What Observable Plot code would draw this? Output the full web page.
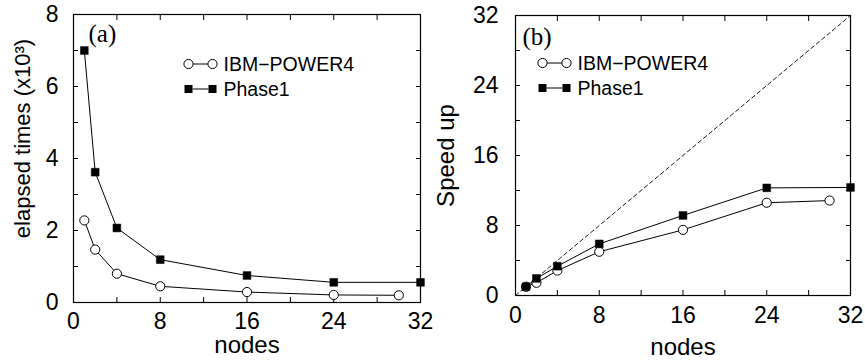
<!DOCTYPE html>
<html><head><meta charset="utf-8">
<script src="https://cdn.jsdelivr.net/npm/d3@7"></script>
<script src="https://cdn.jsdelivr.net/npm/@observablehq/plot@0.6"></script>
<style>
body{margin:0;background:#fff;}
#wrap{position:relative;width:865px;height:360px;font-family:"Liberation Sans",Arial,sans-serif;background:#fff;}
#wrap > svg{position:absolute;top:0;font-family:"Liberation Sans",Arial,sans-serif !important;}
.leg{position:absolute;display:flex;align-items:center;height:20px;font-size:19.5px;line-height:20px;color:#000;white-space:nowrap;}
.leg svg{display:block;margin-right:5px;}
</style>
</head><body>
<div id="wrap"></div>
<script>
// ---- data ----
const nodesIBM = [1, 2, 4, 8, 16, 24, 30];
const timeIBM = [2.28, 1.47, 0.80, 0.45, 0.29, 0.21, 0.20];      // x10^3
const nodesPhase1 = [1, 2, 4, 8, 16, 24, 32];
const timePhase1 = [7.0, 3.62, 2.07, 1.19, 0.75, 0.56, 0.56];    // x10^3
const speedIBM = [1, 1.45, 2.85, 5.0, 7.5, 10.6, 10.85];
const speedPhase1 = [1, 1.95, 3.35, 5.9, 9.15, 12.3, 12.35];
const idealNodes = [0, 32];
const idealSpeed = [0, 32];
const xTicks = [0, 8, 16, 24, 32];
const xMinor = [4, 12, 20, 28];
const yTicksA = [0, 2, 4, 6, 8];
const yMinorA = [1, 3, 5, 7];
const yTicksB = [0, 8, 16, 24, 32];
const yMinorB = [4, 12, 20, 28];
const seriesNames = ["IBM\u2212POWER4", "Phase1"];
const xLabel = "nodes";
const yLabelA = "elapsed times (x10\u00B3)";
const yLabelB = "Speed up";

const rows = (xs, ys) => xs.map((x, i) => ({x, y: ys[i]}));
const ibmA = rows(nodesIBM, timeIBM), phA = rows(nodesPhase1, timePhase1);
const ibmB = rows(nodesIBM, speedIBM), phB = rows(nodesPhase1, speedPhase1);
const ideal = rows(idealNodes, idealSpeed);

const font = "Liberation Sans, Arial, Helvetica, sans-serif";
const serif = "Liberation Serif, Times New Roman, serif";

function frameAxes(xMaj, xMin, yMaj, yMin, xPad, yPad) {
  return [
    Plot.axisX(xMaj, {anchor: "bottom", tickSize: 0, tickPadding: xPad, fontSize: 23, fontFamily: font, label: null}),
    Plot.axisY(yMaj, {anchor: "left", tickSize: 0, tickPadding: yPad, fontSize: 23, fontFamily: font, label: null}),
    Plot.axisX(xMaj.concat(xMin), {anchor: "bottom", tickSize: -5, fill: "none", label: null}),
    Plot.axisX(xMaj.concat(xMin), {anchor: "top", tickSize: -5, fill: "none", label: null}),
    Plot.axisY(yMaj.concat(yMin), {anchor: "left", tickSize: -5, fill: "none", label: null}),
    Plot.axisY(yMaj.concat(yMin), {anchor: "right", tickSize: -5, fill: "none", label: null}),
    Plot.frame({stroke: "black", strokeWidth: 1.2})
  ];
}

const seriesMarks = (ibm, ph) => [
  Plot.line(ibm, {x: "x", y: "y", stroke: "black", strokeWidth: 1}),
  Plot.line(ph, {x: "x", y: "y", stroke: "black", strokeWidth: 1}),
  Plot.dot(ibm, {x: "x", y: "y", r: 4.6, fill: "white", stroke: "black", strokeWidth: 1}),
  Plot.dot(ph, {x: "x", y: "y", r: 4.4, symbol: "square", fill: "black", stroke: "black", strokeWidth: 0.5})
];

const style = {fontFamily: font, fontSize: "22px", color: "black", background: "transparent", overflow: "visible"};

const plotA = Plot.plot({
  width: 432, height: 360,
  marginLeft: 73, marginRight: 12, marginTop: 14, marginBottom: 58,
  style,
  x: {domain: [0, 32]},
  y: {domain: [0, 8]},
  marks: [
    ...frameAxes(xTicks, xMinor, yTicksA, yMinorA, 10, 15),
    ...seriesMarks(ibmA, phA),
    Plot.text([xLabel], {frameAnchor: "bottom", textAnchor: "middle", lineAnchor: "middle", dy: 43, fontSize: 24, fontFamily: font}),
    Plot.text([yLabelA], {frameAnchor: "left", textAnchor: "middle", lineAnchor: "middle", rotate: -90, dx: -51, dy: -20, fontSize: 22, fontFamily: font}),
    Plot.text(["(a)"], {frameAnchor: "top-left", textAnchor: "start", lineAnchor: "middle", dx: 15, dy: 19, fontSize: 25, fontFamily: serif})
  ]
});

const plotB = Plot.plot({
  width: 433, height: 360,
  marginLeft: 83, marginRight: 15, marginTop: 15, marginBottom: 65,
  style,
  x: {domain: [0, 32]},
  y: {domain: [0, 32]},
  marks: [
    ...frameAxes(xTicks, xMinor, yTicksB, yMinorB, 11, 17),
    Plot.line(ideal, {x: "x", y: "y", stroke: "black", strokeWidth: 0.9, strokeDasharray: "4,3"}),
    ...seriesMarks(ibmB, phB),
    Plot.text([xLabel], {frameAnchor: "bottom", textAnchor: "middle", lineAnchor: "middle", dy: 52, fontSize: 24, fontFamily: font}),
    Plot.text([yLabelB], {frameAnchor: "left", textAnchor: "middle", lineAnchor: "middle", rotate: -90, dx: -69, fontSize: 24, fontFamily: font}),
    Plot.text(["(b)"], {frameAnchor: "top-left", textAnchor: "start", lineAnchor: "middle", dx: 7, dy: 21, fontSize: 25, fontFamily: serif})
  ]
});

const wrap = document.getElementById("wrap");
plotA.style.left = "0px";
plotB.style.left = "432px";
wrap.appendChild(plotA);
wrap.appendChild(plotB);

// legends (HTML overlay)
function legendRow(left, centerY, kind, label) {
  const div = document.createElement("div");
  div.className = "leg";
  div.style.left = left + "px";
  div.style.top = (centerY - 10) + "px";
  const sym = kind === "circle"
    ? `<circle cx="5.5" cy="6" r="4.6" fill="white" stroke="black"/><circle cx="29.5" cy="6" r="4.6" fill="white" stroke="black"/>`
    : `<rect x="1.5" y="2" width="8" height="8" fill="black"/><rect x="25.5" y="2" width="8" height="8" fill="black"/>`;
  const line = kind === "circle" ? `<line x1="10.1" x2="24.9" y1="6" y2="6" stroke="black"/>` : `<line x1="9.5" x2="25.5" y1="6" y2="6" stroke="black"/>`;
  div.innerHTML = `<svg width="36" height="12">${line}${sym}</svg><span>${label}</span>`;
  wrap.appendChild(div);
}
legendRow(182.5, 64, "circle", seriesNames[0]);
legendRow(182.5, 89, "square", seriesNames[1]);
legendRow(536.5, 63, "circle", seriesNames[0]);
legendRow(536.5, 88, "square", seriesNames[1]);
</script>
</body></html>
